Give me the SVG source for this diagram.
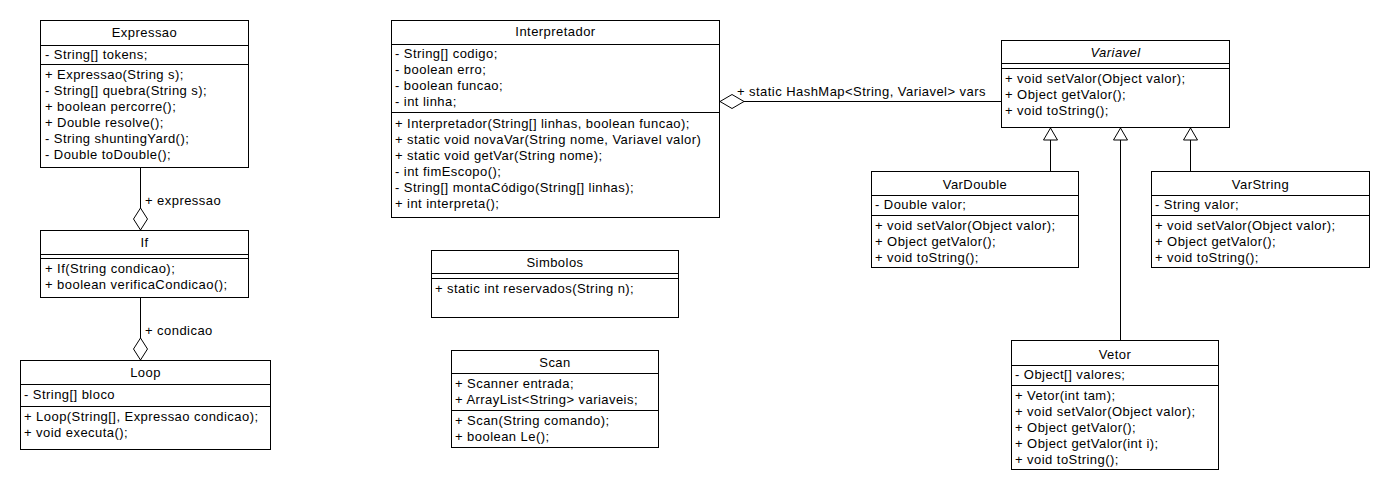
<svg xmlns="http://www.w3.org/2000/svg" width="1390" height="490" viewBox="0 0 1390 490">
<style>
.box{fill:#fff;stroke:#000;stroke-width:1}
.sep{stroke:#000;stroke-width:1;fill:none}
text{font-family:"Liberation Sans",Arial,sans-serif;font-size:13px;letter-spacing:0.45px;fill:#000}
.h{text-anchor:middle}
.i{font-style:italic}
.ln{stroke:#000;stroke-width:1;fill:none}
.dia{fill:#fff;stroke:#000;stroke-width:1}
.tri{fill:#fff;stroke:#000;stroke-width:1}
</style>
<rect width="1390" height="490" fill="#fff"/>
<g id="connectors">
<path class="ln" d="M140.5,168 V208"/>
<path class="dia" d="M140.5,208 L147.5,219 L140.5,230 L133.5,219 Z"/>
<text x="145" y="205">+ expressao</text>
<path class="ln" d="M140.5,298 V338"/>
<path class="dia" d="M140.5,338 L147.5,349 L140.5,360 L133.5,349 Z"/>
<text x="145" y="335">+ condicao</text>
<path class="ln" d="M744,101.5 H1001"/>
<path class="dia" d="M720,101.5 L732,94.5 L744,101.5 L732,108.5 Z"/>
<text x="737" y="96">+ static HashMap&lt;String, Variavel&gt; vars</text>
<path class="ln" d="M1050.5,140 V171"/>
<path class="tri" d="M1050.5,128 L1057.5,140 L1043.5,140 Z"/>
<path class="ln" d="M1120.5,140 V340"/>
<path class="tri" d="M1120.5,128 L1127.5,140 L1113.5,140 Z"/>
<path class="ln" d="M1190.5,140 V171"/>
<path class="tri" d="M1190.5,128 L1197.5,140 L1183.5,140 Z"/>
</g>
<g id="Expressao">
<rect class="box" x="40.5" y="20.5" width="208" height="147"/>
<path class="sep" d="M40.5,45.5 H248.5 M40.5,64.5 H248.5"/>
<text class="h" x="144.5" y="37">Expressao</text>
<text x="45" y="59">- String[] tokens;</text>
<text x="45" y="79">+ Expressao(String s);</text>
<text x="45" y="95">- String[] quebra(String s);</text>
<text x="45" y="111">+ boolean percorre();</text>
<text x="45" y="127">+ Double resolve();</text>
<text x="45" y="143">- String shuntingYard();</text>
<text x="45" y="159">- Double toDouble();</text>
</g>
<g id="If">
<rect class="box" x="40.5" y="230.5" width="208" height="67"/>
<path class="sep" d="M40.5,254.5 H248.5 M40.5,258.5 H248.5"/>
<text class="h" x="144.5" y="247">If</text>
<text x="45" y="273">+ If(String condicao);</text>
<text x="45" y="289">+ boolean verificaCondicao();</text>
</g>
<g id="Loop">
<rect class="box" x="20.5" y="360.5" width="250" height="89"/>
<path class="sep" d="M20.5,384.5 H270.5 M20.5,406.5 H270.5"/>
<text class="h" x="145.5" y="377">Loop</text>
<text x="24" y="399">- String[] bloco</text>
<text x="24" y="421">+ Loop(String[], Expressao condicao);</text>
<text x="24" y="437">+ void executa();</text>
</g>
<g id="Interpretador">
<rect class="box" x="391.5" y="20.5" width="328" height="197"/>
<path class="sep" d="M391.5,44.5 H719.5 M391.5,112.5 H719.5"/>
<text class="h" x="555.5" y="36">Interpretador</text>
<text x="395" y="58">- String[] codigo;</text>
<text x="395" y="74">- boolean erro;</text>
<text x="395" y="90">- boolean funcao;</text>
<text x="395" y="106">- int linha;</text>
<text x="395" y="128">+ Interpretador(String[] linhas, boolean funcao);</text>
<text x="395" y="144">+ static void novaVar(String nome, Variavel valor)</text>
<text x="395" y="160">+ static void getVar(String nome);</text>
<text x="395" y="176">- int fimEscopo();</text>
<text x="395" y="192">- String[] montaCódigo(String[] linhas);</text>
<text x="395" y="208">+ int interpreta();</text>
</g>
<g id="Simbolos">
<rect class="box" x="431.5" y="250.5" width="247" height="67"/>
<path class="sep" d="M431.5,273.5 H678.5 M431.5,278.5 H678.5"/>
<text class="h" x="555" y="267">Simbolos</text>
<text x="435" y="293">+ static int reservados(String n);</text>
</g>
<g id="Scan">
<rect class="box" x="451.5" y="350.5" width="207" height="97"/>
<path class="sep" d="M451.5,373.5 H658.5 M451.5,410.5 H658.5"/>
<text class="h" x="555" y="367">Scan</text>
<text x="455" y="388">+ Scanner entrada;</text>
<text x="455" y="404">+ ArrayList&lt;String&gt; variaveis;</text>
<text x="455" y="425">+ Scan(String comando);</text>
<text x="455" y="441">+ boolean Le();</text>
</g>
<g id="Variavel">
<rect class="box" x="1001.5" y="40.5" width="228" height="87"/>
<path class="sep" d="M1001.5,63.5 H1229.5 M1001.5,68.5 H1229.5"/>
<text class="h i" x="1115.5" y="57">Variavel</text>
<text x="1005" y="83">+ void setValor(Object valor);</text>
<text x="1005" y="99">+ Object getValor();</text>
<text x="1005" y="115">+ void toString();</text>
</g>
<g id="VarDouble">
<rect class="box" x="871.5" y="171.5" width="207" height="96"/>
<path class="sep" d="M871.5,195.5 H1078.5 M871.5,215.5 H1078.5"/>
<text class="h" x="975" y="189">VarDouble</text>
<text x="875" y="209">- Double valor;</text>
<text x="875" y="230">+ void setValor(Object valor);</text>
<text x="875" y="246">+ Object getValor();</text>
<text x="875" y="262">+ void toString();</text>
</g>
<g id="VarString">
<rect class="box" x="1151.5" y="171.5" width="218" height="96"/>
<path class="sep" d="M1151.5,195.5 H1369.5 M1151.5,215.5 H1369.5"/>
<text class="h" x="1260.5" y="189">VarString</text>
<text x="1155" y="209">- String valor;</text>
<text x="1155" y="230">+ void setValor(Object valor);</text>
<text x="1155" y="246">+ Object getValor();</text>
<text x="1155" y="262">+ void toString();</text>
</g>
<g id="Vetor">
<rect class="box" x="1011.5" y="340.5" width="207" height="129"/>
<path class="sep" d="M1011.5,365.5 H1218.5 M1011.5,385.5 H1218.5"/>
<text class="h" x="1115" y="359">Vetor</text>
<text x="1015" y="379">- Object[] valores;</text>
<text x="1015" y="400">+ Vetor(int tam);</text>
<text x="1015" y="416">+ void setValor(Object valor);</text>
<text x="1015" y="432">+ Object getValor();</text>
<text x="1015" y="448">+ Object getValor(int i);</text>
<text x="1015" y="464">+ void toString();</text>
</g>
</svg>
